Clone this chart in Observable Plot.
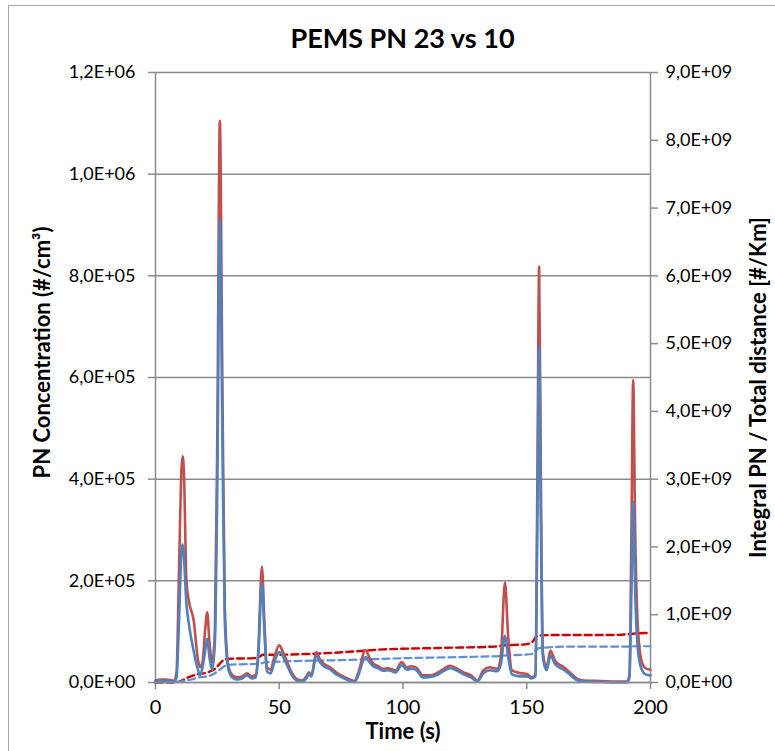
<!DOCTYPE html>
<html>
<head>
<meta charset="utf-8">
<script src="https://cdn.jsdelivr.net/npm/d3@7"></script>
<script src="https://cdn.jsdelivr.net/npm/@observablehq/plot@0.6"></script>
<style>
  html, body { margin: 0; padding: 0; background: #fff; overflow: hidden; }
  #wrap { position: relative; width: 775px; height: 751px; overflow: hidden; font-family: Lato, "Open Sans", sans-serif; }
  #border { position: absolute; left: 8px; top: 5px; width: 900px; height: 900px; border: 1.5px solid #a6a6a6; box-sizing: border-box; }
  #title { position: absolute; left: 0; top: 0; width: 805px; height: 58px; text-align: center; font-weight: bold; font-size: 27px; line-height: 76px; color: #000; }
  #chart { position: absolute; left: 0; top: 58px; }
</style>
</head>
<body>
<div id="wrap">
  <div id="border"></div>
  <div id="title">PEMS PN 23 vs 10</div>
  <div id="chart"></div>
</div>
<script>
// Time axis (s) for the instantaneous PN concentration series
const time = [0,2,4,6,7.5,8.5,9.5,10.5,11,11.5,12.5,13.5,15.5,17,18,19,20,20.9,21.8,22.9,24,25,26,27,28,29.5,31,33,35,37,39,40.5,41.5,43,44,45,46.5,48,50,51.5,53,55,57,59,61,62,63,65,66.5,68,70.5,73,75,77.5,80.5,82,84.8,86.5,88,90,92,94,95.5,97,99.5,101.5,103.5,105.5,108,111,113.5,116.5,119,121.5,124.5,127.5,130,132.5,135,138,139.5,141.2,142.5,144,146,148,150,152,153.5,154.3,155,155.7,156.5,158,159.6,161.5,163,165,168,170.5,173,180,186,190.5,191.5,192.3,193,193.8,195,196.5,198,200];
// PN 23 concentration (#/cm3) — red
const pn23 = [4e3,6e3,6e3,5e3,3e3,2e4,2.2e5,4.2e5,4.45e5,4.1e5,2.0e5,1.6e5,1.2e5,5e4,3e4,4e4,1.0e5,1.38e5,8e4,4e4,1e5,5e5,1.105e6,6e5,1.5e5,3e4,1.5e4,1.0e4,1.2e4,1.8e4,1.2e4,1.5e4,6e4,2.28e5,1.2e5,3e4,2.5e4,5e4,7.3e4,6e4,4.3e4,2e4,7e3,4e3,1.2e4,2e4,1.5e4,6e4,4.5e4,3.7e4,3e4,2e4,1.4e4,8e3,3e3,2e4,6.4e4,4.8e4,3.7e4,3.2e4,2.7e4,2.8e4,2.6e4,2.4e4,4e4,3e4,3.2e4,2.9e4,1.4e4,1.4e4,1.8e4,2.7e4,3.3e4,2.8e4,2e4,1.4e4,4e3,2.4e4,3e4,2.7e4,5e4,1.97e5,9e4,2.4e4,2e4,1.8e4,1.7e4,1e4,1.5e4,4e5,8.18e5,4e5,6e4,3e4,6.3e4,4.2e4,3.6e4,3e4,1.7e4,7e3,4e3,3e3,2e3,2e3,1.5e4,3e5,5.95e5,3e5,1e5,4e4,2.8e4,2.5e4];
// PN 10 concentration (#/cm3) — blue
const pn10 = [2e3,4e3,3e3,3e3,1e3,1e4,1.2e5,2.6e5,2.72e5,2.45e5,1.55e5,1.15e5,6e4,2.8e4,1.4e4,3e4,6e4,8.6e4,5e4,2.5e4,8e4,4e5,9.1e5,5e5,1.2e5,2.5e4,1.0e4,6e3,8e3,1.4e4,8e3,1e4,5e4,1.95e5,1.0e5,2.2e4,1.8e4,4e4,6e4,5.2e4,3.6e4,1.5e4,4e3,2e3,8e3,1.6e4,1.2e4,5.3e4,4e4,3.2e4,2.6e4,1.6e4,1.1e4,5e3,1e3,1.5e4,5.0e4,4e4,3.2e4,2.8e4,2.3e4,2.4e4,2.2e4,2e4,3.4e4,2.5e4,2.7e4,2.4e4,1e4,1.1e4,1.4e4,2.3e4,2.8e4,2.4e4,1.6e4,1e4,2e3,1.8e4,2.4e4,2.2e4,3.5e4,9.2e4,5e4,1.6e4,1.3e4,1.2e4,1.2e4,8e3,1.2e4,3.2e5,6.6e5,3.2e5,5e4,2.4e4,5.3e4,3.6e4,3e4,2.5e4,1.3e4,4e3,2e3,1e3,0,0,1e4,1.8e5,3.55e5,1.8e5,6e4,2.5e4,1.6e4,1.4e4];

// Integral PN / total distance (#/Km) — right axis
const cum23Time = [0,8,10,14,17,21,24,26,28,30,40,42,43.5,48,61,81,88,115,137,141,149,152,154,156,161,182,192,194,200];
const cum23 = [0,0,2e7,8.8e7,1.2e8,1.5e8,2e8,2.8e8,3.4e8,3.5e8,3.6e8,3.8e8,4.1e8,4.1e8,4.2e8,4.6e8,4.8e8,5.1e8,5.3e8,5.5e8,5.6e8,5.9e8,6.8e8,6.95e8,7.0e8,7.0e8,7.15e8,7.25e8,7.3e8];
const cum10Time = [0,6,10,14,18,21,23.6,26,27.6,30.5,42,44,48,75,102,129,139,142,149,152,153,155.5,169,192,194,200];
const cum10 = [0,0,1.5e7,4e7,7.8e7,9e7,1.28e8,1.9e8,2.36e8,2.65e8,2.75e8,2.95e8,3.05e8,3.3e8,3.6e8,3.8e8,3.9e8,4.0e8,4.1e8,4.2e8,4.6e8,5.1e8,5.3e8,5.3e8,5.35e8,5.35e8];

const xTicks = [0, 50, 100, 150, 200];
const leftTicks = [0, 2e5, 4e5, 6e5, 8e5, 1e6, 1.2e6];
const rightTicks = [0, 1e9, 2e9, 3e9, 4e9, 5e9, 6e9, 7e9, 8e9, 9e9];

const title = "PEMS PN 23 vs 10";
const xLabel = "Time (s)";
const yLabel = "PN Concentration (#/cm³)";
const y2Label = "Integral PN / Total distance [#/Km]";

const leftMax = 1.2e6, rightMax = 9e9;
const ratio = leftMax / rightMax;

function sci(v) {
  if (v === 0) return "0,0E+00";
  const e = Math.floor(Math.log10(Math.abs(v)) + 1e-9);
  const m = v / Math.pow(10, e);
  return m.toFixed(1).replace(".", ",") + "E" + (e < 0 ? "-" : "+") + String(Math.abs(e)).padStart(2, "0");
}

const conc = time.map((t, i) => ({t, pn23: pn23[i], pn10: pn10[i]}));
const c23 = cum23Time.map((t, i) => ({t, v: cum23[i]}));
const c10 = cum10Time.map((t, i) => ({t, v: cum10[i]}));

const grey = "#8c8c8c";

const chart = Plot.plot({
  width: 775,
  height: 693,
  marginLeft: 155,
  marginRight: 125,
  marginTop: 14,
  marginBottom: 69,
  style: {fontFamily: 'Lato, "Open Sans", sans-serif', fontSize: "18px", color: "#000", background: "transparent", overflow: "visible"},
  x: {domain: [0, 200]},
  y: {domain: [0, leftMax]},
  marks: [
    Plot.gridY(leftTicks, {stroke: grey, strokeOpacity: 1, strokeWidth: 1.5}),
    Plot.ruleX([0, 200], {stroke: grey, strokeWidth: 1.5}),
    Plot.axisY({ticks: leftTicks, tickFormat: sci, tickSize: 7, tickPadding: 13, stroke: grey, strokeWidth: 1.5, label: null, fontSize: 18}),
    Plot.axisY({anchor: "right", ticks: rightTicks.map(d => d * ratio), tickFormat: d => sci(Math.round(d / ratio / 1e8) * 1e8), tickSize: 7, tickPadding: 8, stroke: grey, strokeWidth: 1.5, label: null, fontSize: 18}),
    Plot.axisX({ticks: xTicks, tickFormat: d => String(d), tickSize: 7, tickPadding: 10, stroke: grey, strokeWidth: 1.5, label: null, fontSize: 20}),
    Plot.line(c23, {x: "t", y: d => d.v * ratio, stroke: "#cc0000", strokeWidth: 2.4, strokeDasharray: "7,4", curve: "monotone-x"}),
    Plot.line(c10, {x: "t", y: d => d.v * ratio, stroke: "#5b8fd6", strokeWidth: 2.2, strokeDasharray: "7,4", curve: "monotone-x"}),
    Plot.line(conc, {x: "t", y: "pn23", stroke: "#c0504d", strokeWidth: 2.6, curve: "monotone-x"}),
    Plot.line(conc, {x: "t", y: "pn10", stroke: "#4f81bd", strokeWidth: 2.6, curve: "monotone-x"}),
    Plot.ruleY([0], {stroke: grey, strokeWidth: 1.5}),
    Plot.text([yLabel], {text: d => d, frameAnchor: "left", textAnchor: "middle", dx: -113, dy: -25, rotate: -90, fontWeight: "bold", fontSize: 22}),
    Plot.text([y2Label], {text: d => d, frameAnchor: "right", textAnchor: "middle", dx: 108, dy: 10, rotate: -90, fontWeight: "bold", fontSize: 22}),
    Plot.text([xLabel], {text: d => d, frameAnchor: "bottom", dy: 56, fontWeight: "bold", fontSize: 22})
  ]
});
document.getElementById("chart").appendChild(chart);
</script>
</body>
</html>
